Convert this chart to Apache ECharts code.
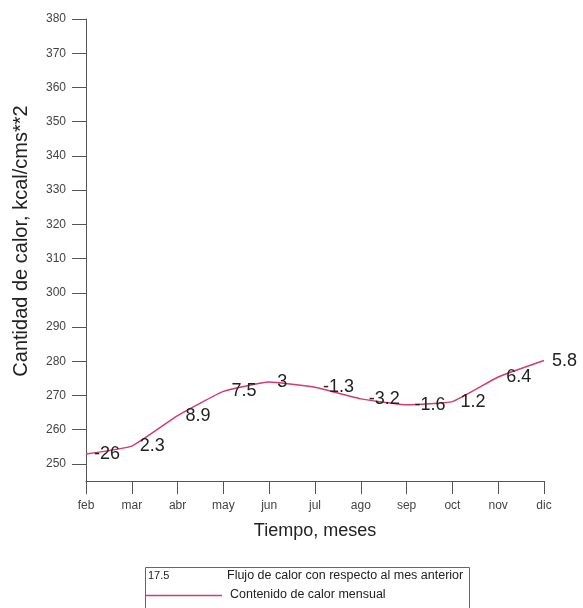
<!DOCTYPE html>
<html>
<head>
<meta charset="utf-8">
<script src="https://cdn.jsdelivr.net/npm/echarts@6/dist/echarts.min.js"></script>
<style>
html,body{margin:0;padding:0;background:#fff;}
#chart{width:583px;height:608px;}
</style>
</head>
<body>
<div id="chart"></div>
<script>
var months = ['feb','mar','abr','may','jun','jul','ago','sep','oct','nov','dic'];
var heatContent = [252.9, 255.2, 264.1, 271.2, 273.9, 272.4, 269.0, 267.3, 268.2, 275.4, 280.2];
var heatFlux = ['-26','2.3','8.9','7.5','3','-1.3','-3.2','-1.6','1.2','6.4','5.8'];
var yTicks = [250,260,270,280,290,300,310,320,330,340,350,360,370,380];

var FONT = '"Liberation Sans", Arial, sans-serif';
var AXIS = '#555';
var LINE = '#d63a6e';

var chart = echarts.init(document.getElementById('chart'), null, {renderer:'canvas'});
chart.setOption({
  backgroundColor:'#fff',
  animation:false,
  grid:{left:86, right:39, top:19, bottom:127, containLabel:false},
  xAxis:{
    type:'category', data:months, boundaryGap:false,
    name:'Tiempo, meses', nameLocation:'middle', nameGap:41,
    nameTextStyle:{fontFamily:FONT, fontSize:18, color:'#222'},
    axisLine:{lineStyle:{color:AXIS, width:1}},
    axisTick:{length:13, lineStyle:{color:AXIS}, alignWithLabel:true},
    axisLabel:{fontFamily:FONT, fontSize:12, color:'#444', margin:19},
    splitLine:{show:false}
  },
  yAxis:{
    type:'value', min:245, max:380,
    axisLine:{show:true, lineStyle:{color:AXIS, width:1}},
    axisTick:{show:true, length:14, lineStyle:{color:AXIS}, customValues:yTicks},
    axisLabel:{fontFamily:FONT, fontSize:12, color:'#444', margin:20, customValues:yTicks},
    splitLine:{show:false}
  },
  series:[{
    type:'line', data:heatContent, smooth:0.12,
    symbol:'circle', symbolSize:0,
    lineStyle:{color:LINE, width:1.5},
    itemStyle:{color:LINE},
    label:{show:true, position:'right', distance:8,
      fontFamily:FONT, fontSize:18, color:'#222',
      formatter:function(p){return heatFlux[p.dataIndex];}}
  }],
  graphic:[
    {type:'text', x:21, y:241, rotation:Math.PI/2,
      style:{text:'Cantidad de calor, kcal/cms**2', fontFamily:FONT, fontSize:20, fill:'#222', align:'center', verticalAlign:'middle'}},
    {type:'rect', shape:{x:145.5, y:567.5, width:324, height:45},
      style:{fill:'#fff', stroke:'#666', lineWidth:1}},
    {type:'text', x:148, y:576,
      style:{text:'17.5', fontFamily:FONT, fontSize:11, fill:'#222', verticalAlign:'middle'}},
    {type:'text', x:227, y:576,
      style:{text:'Flujo de calor con respecto al mes anterior', fontFamily:FONT, fontSize:12.5, fill:'#222', verticalAlign:'middle'}},
    {type:'line', shape:{x1:146, y1:595.5, x2:222, y2:595.5},
      style:{stroke:LINE, lineWidth:1.5}},
    {type:'text', x:230, y:595,
      style:{text:'Contenido de calor mensual', fontFamily:FONT, fontSize:12.5, fill:'#222', verticalAlign:'middle'}}
  ]
});
</script>
</body>
</html>
